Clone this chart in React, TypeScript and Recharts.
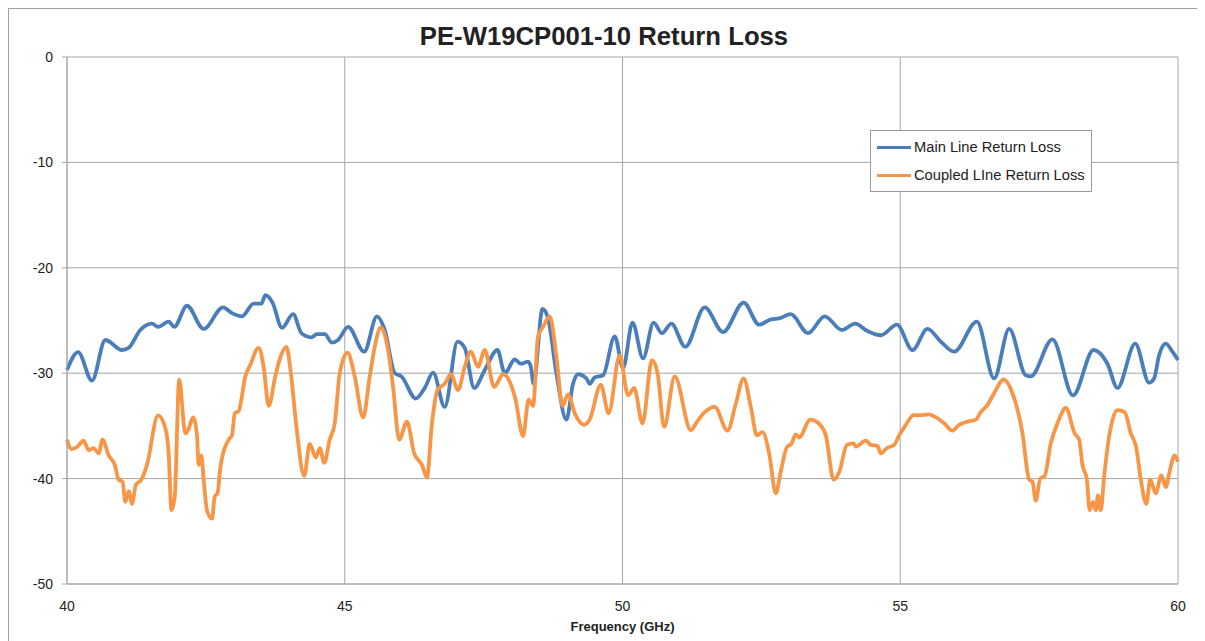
import { CartesianGrid, Legend, Line, LineChart, XAxis, YAxis } from "recharts";

const BLUE = "#4a7ebb";
const ORANGE = "#f79646";
const GRID = "#a6a6a6";

const freqTicks = [40, 45, 50, 55, 60];
const lossTicks = [0, -10, -20, -30, -40, -50];

// main line, sampled at its peaks and dips (GHz / dB)
const mainFreq = [
  40.0, 40.2, 40.45, 40.69, 40.99, 41.11, 41.32, 41.53, 41.64, 41.83,
  41.93, 42.16, 42.46, 42.81, 42.97, 43.15, 43.36, 43.5, 43.57, 43.7,
  43.87, 44.07, 44.22, 44.4, 44.5, 44.64, 44.77, 44.88, 45.06, 45.35,
  45.58, 45.72, 45.9, 46.02, 46.28, 46.44, 46.59, 46.8, 47.03, 47.16,
  47.33, 47.52, 47.75, 47.88, 48.06, 48.17, 48.3, 48.35, 48.4, 48.56,
  48.66, 48.81, 48.99, 49.11, 49.2, 49.35, 49.41, 49.5, 49.65, 49.86,
  50.01, 50.18, 50.37, 50.56, 50.71, 50.88, 51.13, 51.48, 51.81, 52.18,
  52.46, 52.67, 52.82, 53.03, 53.34, 53.64, 53.95, 54.19, 54.41, 54.65,
  54.94, 55.22, 55.49, 55.73, 55.97, 56.38, 56.69, 56.96, 57.26, 57.35,
  57.74, 58.11, 58.48, 58.73, 58.91, 59.23, 59.48, 59.57, 59.66, 59.78,
  59.9, 60.0,
];
const mainLoss = [
  -29.7, -28.0, -30.7, -26.85, -27.8, -27.6, -25.9, -25.3, -25.6, -25.1,
  -25.6, -23.6, -25.8, -23.75, -24.3, -24.6, -23.4, -23.4, -22.6, -23.3,
  -25.7, -24.4, -26.2, -26.6, -26.3, -26.3, -27.1, -26.85, -25.6, -27.96,
  -24.6, -25.9, -30.0, -30.3, -32.4, -31.4, -29.95, -33.2, -27.0, -27.6,
  -31.4, -29.7, -27.8, -30.0, -28.7, -29.1, -28.9, -29.4, -31.0, -23.9,
  -24.8, -30.0, -34.4, -31.0, -30.1, -30.5, -31.0, -30.4, -30.2, -26.5,
  -29.5, -25.2, -28.6, -25.2, -26.2, -25.3, -27.5, -23.75, -26.1, -23.3,
  -25.4, -24.9, -24.8, -24.4, -26.2, -24.6, -25.9, -25.3, -26.0, -26.4,
  -25.4, -27.8, -25.8, -27.0, -27.96, -25.1, -30.5, -25.8, -30.2, -30.3,
  -26.8, -32.1, -27.8, -29.1, -31.4, -27.2, -30.9, -30.5, -28.3, -27.2,
  -27.96, -28.75,
];

// coupled line
const coupledFreq = [
  40.0, 40.08, 40.18, 40.3, 40.39, 40.48, 40.57, 40.64, 40.75, 40.86,
  40.93, 41.0, 41.05, 41.11, 41.17, 41.24, 41.34, 41.44, 41.64, 41.77,
  41.83, 41.88, 41.94, 42.02, 42.13, 42.18, 42.27, 42.34, 42.37, 42.42,
  42.46, 42.52, 42.61, 42.66, 42.71, 42.76, 42.91, 42.97, 43.02, 43.09,
  43.21, 43.3, 43.45, 43.54, 43.63, 43.75, 43.84, 43.95, 44.03, 44.13,
  44.27, 44.37, 44.48, 44.55, 44.63, 44.73, 44.82, 44.91, 45.05, 45.18,
  45.33, 45.45, 45.54, 45.65, 45.78, 45.87, 45.98, 46.12, 46.25, 46.39,
  46.48, 46.57, 46.67, 46.8, 46.91, 47.04, 47.16, 47.27, 47.4, 47.52,
  47.69, 47.85, 47.94, 48.07, 48.21, 48.31, 48.39, 48.48, 48.57, 48.69,
  48.81, 48.92, 49.02, 49.14, 49.31, 49.41, 49.61, 49.75, 49.95, 50.1,
  50.21, 50.36, 50.53, 50.63, 50.75, 50.94, 51.23, 51.33, 51.48, 51.66,
  51.89, 52.04, 52.18, 52.31, 52.42, 52.52, 52.64, 52.76, 52.85, 52.96,
  53.04, 53.12, 53.18, 53.38, 53.53, 53.66, 53.8, 53.9, 54.04, 54.16,
  54.2, 54.38, 54.47, 54.59, 54.65, 54.76, 54.89, 54.98, 55.1, 55.24,
  55.4, 55.52, 55.61, 55.79, 55.94, 56.06, 56.21, 56.36, 56.45, 56.57,
  56.69, 56.86, 57.02, 57.2, 57.32, 57.38, 57.44, 57.52, 57.6, 57.71,
  57.83, 57.98, 58.14, 58.22, 58.28, 58.36, 58.41, 58.47, 58.52, 58.56,
  58.61, 58.67, 58.76, 58.91, 59.04, 59.15, 59.25, 59.33, 59.43, 59.5,
  59.6, 59.7, 59.78, 59.85, 59.94, 60.0,
];
const coupledLoss = [
  -36.3, -37.2, -37.0, -36.4, -37.3, -37.1, -37.6, -36.3, -37.8, -38.7,
  -40.1, -40.3, -42.2, -41.2, -42.4, -40.6, -40.1, -38.7, -34.0, -35.2,
  -37.6, -43.0, -41.7, -30.6, -35.7, -35.4, -34.2, -35.9, -38.7, -37.8,
  -40.1, -43.0, -43.8, -41.7, -41.4, -39.0, -36.3, -35.9, -33.8, -33.6,
  -30.3, -29.2, -27.6, -29.4, -33.1, -30.3, -28.5, -27.5, -30.0, -35.1,
  -39.75, -36.7, -38.0, -37.1, -38.5, -36.3, -34.75, -30.0, -28.05, -30.3,
  -34.2, -30.3, -27.5, -25.65, -27.8, -31.3, -36.3, -34.6, -37.6, -38.7,
  -39.9, -34.75, -31.6, -31.0, -30.1, -31.6, -29.4, -27.96, -29.4, -27.8,
  -31.3, -30.1, -30.5, -32.4, -35.96, -32.5, -33.1, -26.5, -25.6, -24.6,
  -28.4, -33.1, -32.0, -33.8, -34.9, -34.4, -31.1, -33.8, -28.3, -32.1,
  -31.4, -34.75, -28.75, -29.95, -35.1, -30.3, -35.4, -34.7, -33.7, -33.2,
  -35.45, -32.9, -30.5, -33.2, -35.9, -35.6, -37.6, -41.4, -39.3, -37.0,
  -36.7, -35.8, -36.1, -34.4, -34.75, -35.9, -40.1, -39.4, -36.8, -36.65,
  -36.97, -36.4, -36.8, -36.9, -37.6, -37.1, -36.8, -35.9, -34.9, -33.97,
  -33.97, -33.9, -34.1, -34.75, -35.45, -34.9, -34.6, -34.4, -33.7, -33.0,
  -31.9, -30.6, -31.9, -35.7, -40.1, -40.3, -42.1, -40.0, -39.75, -36.65,
  -34.75, -33.3, -35.7, -36.3, -38.7, -40.1, -43.0, -42.2, -43.0, -41.6,
  -43.0, -39.8, -36.0, -33.5, -33.7, -35.7, -37.1, -40.1, -42.4, -40.1,
  -41.4, -39.7, -40.8, -39.3, -37.8, -38.4,
];

const mainData = mainFreq.map((f, i) => ({ f, v: mainLoss[i] }));
const coupledData = coupledFreq.map((f, i) => ({ f, v: coupledLoss[i] }));

const FONT = "'Liberation Sans', Arial, sans-serif";

function LegendBox() {
  const row = (color: string, label: string) => (
    <div style={{ display: "flex", alignItems: "center", height: 28 }}>
      <div style={{ width: 34, height: 3, background: color, marginRight: 3 }} />
      <span>{label}</span>
    </div>
  );
  return (
    <div
      style={{
        border: "1px solid #9a9a9a",
        background: "#fff",
        padding: "2px 6px",
        fontFamily: FONT,
        fontSize: 14.7,
        color: "#222",
        width: 208,
        whiteSpace: "nowrap",
      }}
    >
      {row(BLUE, "Main Line Return Loss")}
      {row(ORANGE, "Coupled LIne Return Loss")}
    </div>
  );
}

export default function App() {
  return (
    <div
      style={{
        position: "relative",
        width: 1190,
        height: 632,
        border: "1px solid #a0a0a0",
        background: "#fff",
      }}
    >
      <div
        style={{
          position: "absolute",
          top: 13,
          left: 0,
          width: "100%",
          textAlign: "center",
          fontFamily: FONT,
          fontWeight: "bold",
          fontSize: 25.7,
          lineHeight: "28px",
          color: "#222",
        }}
      >
        PE-W19CP001-10 Return Loss
      </div>
      <LineChart
        width={1190}
        height={632}
        margin={{ top: 48, right: 21, left: 0, bottom: 0 }}
      >
        <CartesianGrid stroke={GRID} strokeWidth={1} />
        <XAxis
          dataKey="f"
          type="number"
          domain={[40, 60]}
          ticks={freqTicks}
          allowDuplicatedCategory={false}
          height={57}
          stroke={GRID}
          tickLine={false}
          tickSize={6}
          tickMargin={11}
          tick={{ fill: "#222", fontSize: 14, fontFamily: FONT }}
          label={{
            value: "Frequency (GHz)",
            position: "insideBottom",
            offset: 10,
            style: { fill: "#222", fontSize: 13, fontWeight: "bold", fontFamily: FONT },
          }}
        />
        <YAxis
          type="number"
          domain={[-50, 0]}
          ticks={lossTicks}
          width={58}
          stroke={GRID}
          tickSize={5}
          tickMargin={9}
          tick={{ fill: "#222", fontSize: 14, fontFamily: FONT }}
        />
        <Legend
          layout="horizontal"
          verticalAlign="middle"
          align="center"
          content={() => <LegendBox />}
          wrapperStyle={{ left: 861, top: 121, width: 222 }}
        />
        <Line
          data={mainData}
          dataKey="v"
          name="Main Line Return Loss"
          type="monotone"
          stroke={BLUE}
          strokeWidth={3.8}
          dot={false}
          isAnimationActive={false}
        />
        <Line
          data={coupledData}
          dataKey="v"
          name="Coupled LIne Return Loss"
          type="monotone"
          stroke={ORANGE}
          strokeWidth={3.8}
          dot={false}
          isAnimationActive={false}
        />
      </LineChart>
    </div>
  );
}
